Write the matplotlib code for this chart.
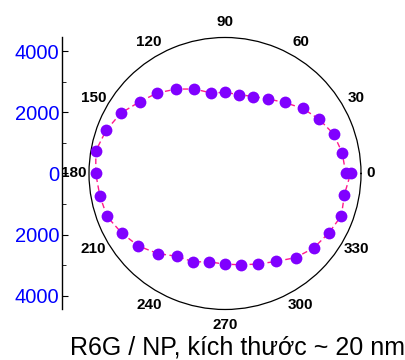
import matplotlib.pyplot as plt
import numpy as np

plt.rcParams['font.family'] = ['Liberation Sans', 'DejaVu Sans']

# Polarization angle (deg) and intensity
angles = [0, 10, 20, 30, 40, 50, 60, 70, 80, 90, 100, 110, 120, 130, 140, 150, 160, 170,
          180, 190, 200, 210, 220, 230, 240, 250, 260, 270, 280, 290, 300, 310, 320, 330,
          340, 350, 360]
intensity = [3950, 3895, 3780, 3554, 3315, 3033, 2816, 2680, 2623, 2650, 2680, 2940, 3190,
             3440, 3650, 3940, 4137, 4290, 4230, 4160, 4110, 3900, 3695, 3420, 3130, 3073,
             2937, 2967, 3033, 3154, 3324, 3594, 3790, 3911, 4052, 3967, 4110]

angle_ticks = [0, 30, 60, 90, 120, 150, 180, 210, 240, 270, 300, 330]
r_ticks = [-4000, -2000, 0, 2000, 4000]
r_max = 4450
title = "R6G / NP, kích thước ~ 20 nm"

fig = plt.figure(figsize=(4.06, 3.6), dpi=100)

ax = fig.add_axes([0.2192, 0.1403, 0.670, 0.7556], projection='polar')
theta = np.deg2rad(angles)
ax.plot(theta, intensity, color='#ff1a8c', lw=1, linestyle=(0, (4, 2.5)), zorder=2)
ax.plot(theta, intensity, 'o', color='#8000ff', ms=8.5, mec='none', zorder=3)
ax.set_ylim(0, r_max)
ax.set_yticks([])
ax.set_xticks([])
ax.grid(False)
ax.spines['polar'].set_color('black')
ax.spines['polar'].set_linewidth(0.9)

for a in angle_ticks:
    rl = 1.07 if a == 0 else 1.115
    ax.text(np.deg2rad(a), r_max * rl, str(a), ha='center', va='center',
            fontsize=11, fontweight='bold', clip_on=False)

# intensity scale on the left
ax2 = fig.add_axes([0.1527, 0.1403, 0.0001, 0.7556])
ax2.set_ylim(-r_max, r_max)
ax2.set_xticks([])
for s in ['top', 'right', 'bottom']:
    ax2.spines[s].set_visible(False)
ax2.spines['left'].set_linewidth(1)
ax2.set_yticks(r_ticks)
ax2.set_yticklabels([str(abs(v)) for v in r_ticks])
ax2.set_yticks([-3000, -1000, 1000, 3000], minor=True)
ax2.tick_params(axis='y', which='major', direction='in', length=4, pad=2,
                labelsize=14.5, labelcolor='#0000ff')
ax2.tick_params(axis='y', which='minor', direction='in', length=3)

fig.text(0.585, 0.035, title, ha='center', va='center', fontsize=18)

fig.savefig('out.png', dpi=100)
